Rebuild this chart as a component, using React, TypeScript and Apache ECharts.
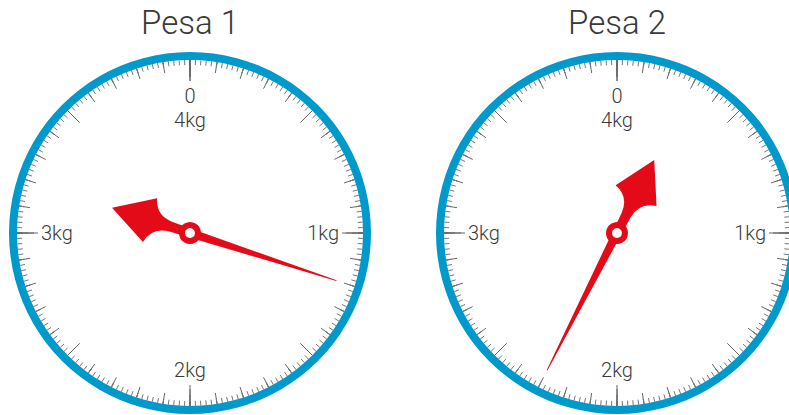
import React, { useEffect, useRef } from "react";
import * as echarts from "echarts";

// ---- data ----
const scaleNames = ["Pesa 1", "Pesa 2"];
const scaleValues = [1.2, 2.3];
const tickLabels = ["0", "1kg", "2kg", "3kg", "4kg"];
const axisMin = 0;
const axisMax = 4;

const RED = "#e30b17";
const BLUE = "#0099cc";
const INK = "#3a3a3a";
const FONT = "Roboto";

const centers = [
  [190, 233],
  [617, 233],
];
const R = 181;
const RING = 8;

const pointerPath =
  "path://M-4.5 0L-0.4 -154L0.4 -154L4.5 0L5 20Q6 38 23 42L0 82L-23 42Q-6 38 -5 20Z";

function base(center: number[]) {
  return {
    type: "gauge",
    center,
    radius: R,
    startAngle: 90,
    endAngle: -270,
    min: axisMin,
    max: axisMax,
    axisLine: { show: true, lineStyle: { width: RING, color: [[1, "rgba(0,0,0,0)"]] } },
    axisTick: { show: false },
    splitLine: { show: false },
    axisLabel: { show: false },
    pointer: { show: false },
    anchor: { show: false },
    title: { show: false },
    detail: { show: false },
  };
}

function buildSeries() {
  const out: any[] = [];
  scaleValues.forEach((v, i) => {
    const c = centers[i];
    // tenth ticks + minor ticks
    out.push({
      ...base(c),
      splitNumber: 40,
      splitLine: { show: true, length: 11, distance: 0, lineStyle: { color: "#666", width: 1 } },
      axisTick: { show: true, splitNumber: 5, length: 5, distance: 0, lineStyle: { color: "#777", width: 1 } },
      data: [{ value: v }],
    });
    // half ticks
    out.push({
      ...base(c),
      splitNumber: 8,
      splitLine: { show: true, length: 17, distance: 0, lineStyle: { color: "#666", width: 1 } },
      data: [{ value: v }],
    });
    // main
    out.push({
      ...base(c),
      splitNumber: 4,
      axisLine: { show: true, lineStyle: { width: RING, color: [[1, BLUE]] } },
      splitLine: { show: true, length: 21, distance: 0, lineStyle: { color: "#666", width: 1 } },
      axisLabel: {
        show: true,
        distance: 11,
        color: INK,
        fontFamily: FONT,
        fontWeight: 300,
        fontSize: 20,
        lineHeight: 24,
        formatter: (val: number) => {
          const idx = Math.round(val);
          if (idx === tickLabels.length - 1) return "\n" + tickLabels[idx];
          return tickLabels[idx];
        },
      },
      pointer: {
        show: true,
        icon: pointerPath,
        length: 236,
        width: 46,
        offsetCenter: [0, 82],
        keepAspect: false,
        itemStyle: { color: RED },
      },
      anchor: {
        show: true,
        showAbove: true,
        icon: "circle",
        size: 16,
        itemStyle: { color: "#fff", borderColor: RED, borderWidth: 6 },
      },
      data: [{ value: v, name: scaleNames[i] }],
    });
  });
  return out;
}

export default function App() {
  const ref = useRef<HTMLDivElement>(null);
  useEffect(() => {
    if (!ref.current) return;
    const chart = echarts.init(ref.current, null, { renderer: "svg" });
    chart.setOption({
      animation: false,
      backgroundColor: "#fff",
      title: scaleNames.map((n, i) => ({
        text: n,
        left: centers[i][0],
        top: 6,
        textAlign: "center",
        padding: 0,
        textStyle: { color: INK, fontFamily: FONT, fontWeight: 300, fontSize: 33 },
      })),
      series: buildSeries(),
    });
    return () => chart.dispose();
  }, []);
  return (
    <div
      ref={ref}
      style={{ position: "fixed", left: 0, top: 0, width: 789, height: 415 }}
    />
  );
}
